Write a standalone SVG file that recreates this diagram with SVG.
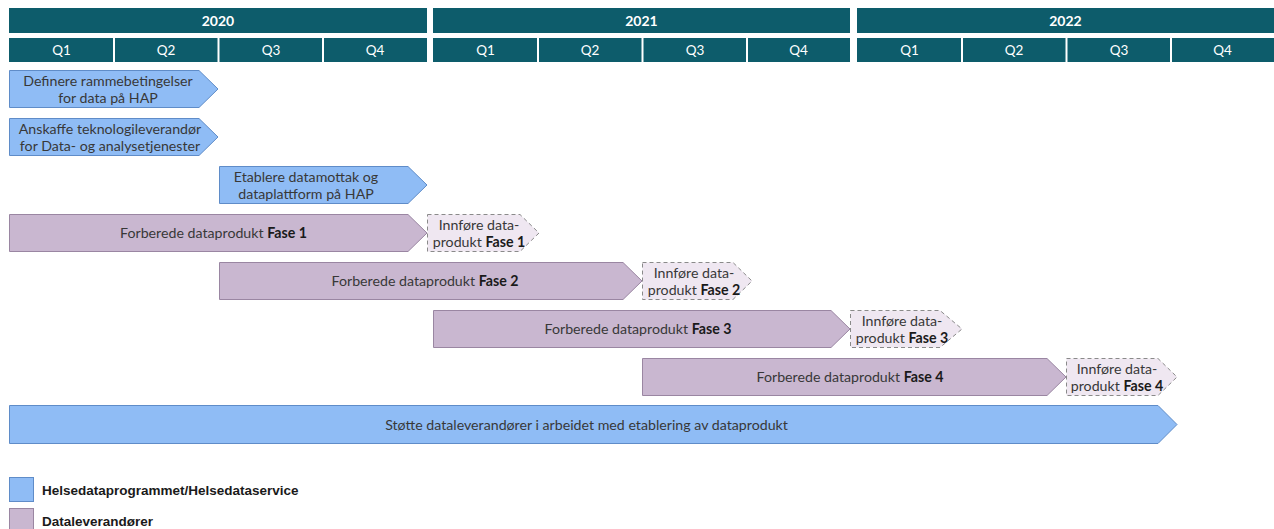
<svg xmlns="http://www.w3.org/2000/svg" width="1274" height="529" viewBox="0 0 1274 529">
  <defs>
    <style>
      .year { fill: #0d5c6b; }
      .qline { stroke: #ffffff; stroke-width: 2; }
      .yt { font-family: Lato, "Open Sans", sans-serif; font-size: 14px; font-weight: bold; fill: #ffffff; text-anchor: middle; }
      .qt { font-family: Lato, "Open Sans", sans-serif; font-size: 13.5px; fill: #ffffff; text-anchor: middle; }
      .blue { fill: #8fbcf5; stroke: #5f8cc8; stroke-width: 1; }
      .purple { fill: #c9b7d0; stroke: #9a86a2; stroke-width: 1; }
      .intro { fill: #efe7f1; stroke: #8a8a8a; stroke-width: 1; stroke-dasharray: 4 3; }
      .lbl { font-family: Lato, "Open Sans", sans-serif; font-size: 14.2px; fill: #383838; text-anchor: middle; }
      .lbl tspan.b { font-weight: bold; fill: #1a1a1a; }
      .leg { font-family: "Liberation Sans", Arial, sans-serif; font-size: 13.5px; font-weight: bold; fill: #1a1a1a; }
    </style>
  </defs>

  <!-- Timeline header: years and quarters -->
  <g id="timeline">
    <rect class="year" x="9" y="8" width="418" height="25"/>
    <rect class="year" x="433" y="8" width="417" height="25"/>
    <rect class="year" x="857" y="8" width="417" height="25"/>
    <text class="yt" x="218" y="25.5">2020</text>
    <text class="yt" x="641.5" y="25.5">2021</text>
    <text class="yt" x="1065.5" y="25.5">2022</text>

    <rect class="year" x="9" y="38" width="418" height="24"/>
    <rect class="year" x="433" y="38" width="417" height="24"/>
    <rect class="year" x="857" y="38" width="417" height="24"/>
    <line class="qline" x1="114" y1="38" x2="114" y2="62"/>
    <line class="qline" x1="218.5" y1="38" x2="218.5" y2="62"/>
    <line class="qline" x1="323" y1="38" x2="323" y2="62"/>
    <line class="qline" x1="538" y1="38" x2="538" y2="62"/>
    <line class="qline" x1="642.5" y1="38" x2="642.5" y2="62"/>
    <line class="qline" x1="747" y1="38" x2="747" y2="62"/>
    <line class="qline" x1="962" y1="38" x2="962" y2="62"/>
    <line class="qline" x1="1066.5" y1="38" x2="1066.5" y2="62"/>
    <line class="qline" x1="1171" y1="38" x2="1171" y2="62"/>
    <text class="qt" x="61.5" y="55">Q1</text>
    <text class="qt" x="166" y="55">Q2</text>
    <text class="qt" x="271" y="55">Q3</text>
    <text class="qt" x="375" y="55">Q4</text>
    <text class="qt" x="485.5" y="55">Q1</text>
    <text class="qt" x="590" y="55">Q2</text>
    <text class="qt" x="695" y="55">Q3</text>
    <text class="qt" x="798.5" y="55">Q4</text>
    <text class="qt" x="909.5" y="55">Q1</text>
    <text class="qt" x="1014" y="55">Q2</text>
    <text class="qt" x="1119" y="55">Q3</text>
    <text class="qt" x="1222.5" y="55">Q4</text>
  </g>

  <!-- Activities (chevrons) -->
  <g id="definere">
    <path class="blue" d="M9.5,70.5 H199 L218,89 L199,107.5 H9.5 Z"/>
    <text class="lbl" x="108" y="86">Definere rammebetingelser</text>
    <text class="lbl" x="108" y="103">for data på HAP</text>
  </g>

  <g id="anskaffe">
    <path class="blue" d="M9.5,118.5 H199 L218,137 L199,155.5 H9.5 Z"/>
    <text class="lbl" x="110" y="134">Anskaffe teknologileverandør</text>
    <text class="lbl" x="110" y="151">for Data- og analysetjenester</text>
  </g>

  <g id="etablere">
    <path class="blue" d="M219.5,166.5 H408 L427,185 L408,203.5 H219.5 Z"/>
    <text class="lbl" x="306" y="182">Etablere datamottak og</text>
    <text class="lbl" x="306" y="199">dataplattform på HAP</text>
  </g>

  <g id="fase1">
    <path class="purple" d="M9.5,214.5 H408 L427,233 L408,251.5 H9.5 Z"/>
    <text class="lbl" x="213.5" y="238">Forberede dataprodukt <tspan class="b">Fase 1</tspan></text>
  </g>
  <g id="innfore1">
    <path class="intro" d="M427.5,214.5 H520 L539,233 L520,251.5 H427.5 Z"/>
    <text class="lbl" x="479" y="229.5">Innføre data-</text>
    <text class="lbl" x="479" y="246.5">produkt <tspan class="b">Fase 1</tspan></text>
  </g>

  <g id="fase2">
    <path class="purple" d="M219.5,262.5 H623 L642,281 L623,299.5 H219.5 Z"/>
    <text class="lbl" x="425" y="286">Forberede dataprodukt <tspan class="b">Fase 2</tspan></text>
  </g>
  <g id="innfore2">
    <path class="intro" d="M642.5,262.5 H733 L752,281 L733,299.5 H642.5 Z"/>
    <text class="lbl" x="694" y="277.5">Innføre data-</text>
    <text class="lbl" x="694" y="294.5">produkt <tspan class="b">Fase 2</tspan></text>
  </g>

  <g id="fase3">
    <path class="purple" d="M433.5,310.5 H831 L850,329 L831,347.5 H433.5 Z"/>
    <text class="lbl" x="638" y="334">Forberede dataprodukt <tspan class="b">Fase 3</tspan></text>
  </g>
  <g id="innfore3">
    <path class="intro" d="M850.5,310.5 H940 L962,329 L940,347.5 H850.5 Z"/>
    <text class="lbl" x="902" y="325.5">Innføre data-</text>
    <text class="lbl" x="902" y="342.5">produkt <tspan class="b">Fase 3</tspan></text>
  </g>

  <g id="fase4">
    <path class="purple" d="M642.5,358.5 H1047 L1066,377 L1047,395.5 H642.5 Z"/>
    <text class="lbl" x="850" y="382">Forberede dataprodukt <tspan class="b">Fase 4</tspan></text>
  </g>
  <g id="innfore4">
    <path class="intro" d="M1066.5,358.5 H1158 L1177,377 L1158,395.5 H1066.5 Z"/>
    <text class="lbl" x="1117" y="373.5">Innføre data-</text>
    <text class="lbl" x="1117" y="390.5">produkt <tspan class="b">Fase 4</tspan></text>
  </g>

  <g id="stotte">
    <path class="blue" d="M9.5,405.5 H1158 L1177,424.5 L1158,443.5 H9.5 Z"/>
    <text class="lbl" x="586.5" y="429.5">Støtte dataleverandører i arbeidet med etablering av dataprodukt</text>
  </g>

  <!-- No connectors between the activities -->
  <g id="connectors"/>

  <!-- Legend -->
  <g id="legend">
    <rect class="blue" x="9.5" y="477.5" width="24" height="24"/>
    <text class="leg" x="42" y="495">Helsedataprogrammet/Helsedataservice</text>
    <rect class="purple" x="9.5" y="508.5" width="24" height="24"/>
    <text class="leg" x="42" y="526">Dataleverandører</text>
  </g>
</svg>
